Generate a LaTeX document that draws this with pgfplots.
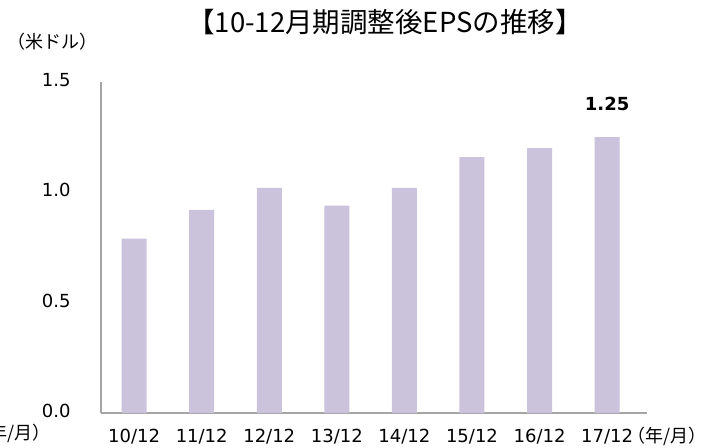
\documentclass[border=0pt]{standalone}
\usepackage{pgfplots}
\pgfplotsset{compat=1.18}
\usepackage{fontspec}
\setmainfont{DejaVu Sans}
\newfontfamily\jp{Noto Sans CJK JP}
\definecolor{barc}{RGB}{203,194,220}
\definecolor{axc}{RGB}{165,165,165}
\begin{document}
\begin{tikzpicture}[x=1pt,y=1pt]
\useasboundingbox (0,0) rectangle (711,447);
\begin{axis}[
  at={(101pt,34pt)}, anchor=south west,
  scale only axis, width=546pt, height=331pt,
  xmin=-0.49, xmax=7.59, ymin=0, ymax=1.5,
  axis x line=bottom, axis y line=left,
  axis line style={-, draw=axc, line width=1.2pt},
  ytick={0,0.5,1,1.5}, yticklabels={0.0,0.5,1.0,1.5},
  xtick={0,1,2,3,4,5,6,7},
  xticklabels={10/12,11/12,12/12,13/12,14/12,15/12,16/12,17/12},
  major tick length=0,
  tick label style={font=\fontsize{18}{20}\selectfont, black},
  y tick label style={xshift=-27pt, yshift=2pt},
  x tick label style={yshift=-12.5pt},
  ybar, bar width=25pt,
  clip=false,
]
\addplot[fill=barc, draw=none] coordinates {(0,0.79) (1,0.92) (2,1.02) (3,0.94) (4,1.02) (5,1.16) (6,1.20) (7,1.25)};
\node[font=\bfseries\fontsize{18}{20}\selectfont] at (axis cs:7,1.25) [yshift=33pt] {1.25};
\end{axis}
\node[font=\jp\fontsize{27.5}{30}\selectfont] at (385,425) {【10-12月期調整後EPSの推移】};
\node[font=\jp\fontsize{18}{21}\selectfont, anchor=west] at (4,405) {（米ドル）};
\node[font=\jp\fontsize{18}{21}\selectfont, anchor=west] at (624,11) {（年/月）};
\node[font=\jp\fontsize{18}{21}\selectfont, anchor=east] at (54,14) {（年/月）};
\end{tikzpicture}
\end{document}
